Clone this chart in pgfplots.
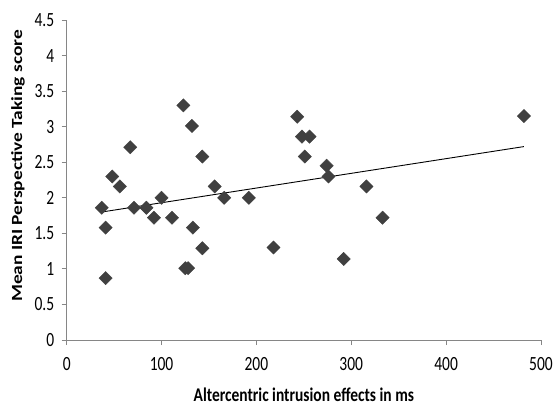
\documentclass[border=0pt]{standalone}
\usepackage{fontspec}
\setmainfont{Carlito}
\usepackage{pgfplots}
\pgfplotsset{compat=1.18}
\definecolor{axgray}{HTML}{868686}
\definecolor{mk}{HTML}{404040}
\begin{document}
\begin{tikzpicture}
\useasboundingbox (-66.7pt,-68pt) rectangle (487.3pt,340pt);
\begin{axis}[
  scale only axis,
  width=474.3pt, height=320pt,
  xmin=0, xmax=500, ymin=0, ymax=4.5,
  xtick={0,100,...,500},
  ytick={0,0.5,...,4.5},
  axis x line*=bottom, axis y line*=left,
  axis line style={axgray, line width=0.8pt, -},
  tick style={axgray, line width=0.8pt},
  tick align=outside,
  major tick length=5pt,
  /pgf/number format/assume math mode=true,
  /pgf/number format/fixed,
  yticklabel style={font=\fontsize{15.5}{15.5}\selectfont, yscale=1.3, xshift=-4pt},
  xticklabel style={font=\fontsize{15.5}{15.5}\selectfont, yscale=1.3, yshift=-6pt},
  xlabel={\textbf{Altercentric intrusion effects in ms}},
  ylabel={\textbf{Mean IRI Perspective Taking score}},
  xlabel style={font=\fontsize{15.5}{15.5}\selectfont, yscale=1.25, at={(axis description cs:0.5,-0.17)}, anchor=center},
  ylabel style={font=\fontsize{15.5}{15.5}\selectfont, xscale=1.25, at={(axis description cs:-0.1027,0.544)}, anchor=center},
  clip=false,
]
\addplot[only marks, mark=square*, mark size=4.7pt, mark options={rotate=45, fill=mk, draw=mk}] coordinates {
(37,1.86) (41,1.58) (41,0.87) (48,2.30) (56,2.16) (67,2.71) (71,1.86) (84,1.86)
(92,1.72) (100,2.0) (111,1.72) (123,3.30) (132,3.01) (133,1.58) (125,1.01) (128,1.01)
(143,2.58) (143,1.29) (156,2.16) (166,2.0) (192,2.0)
(218,1.30) (243,3.14) (248,2.86) (256,2.86) (251,2.58) (274,2.45) (276,2.30)
(292,1.14) (316,2.16) (333,1.72) (482,3.15)
};
\addplot[black, line width=0.9pt, no marks] coordinates {(37,1.80) (482,2.72)};
\end{axis}
\end{tikzpicture}
\end{document}
